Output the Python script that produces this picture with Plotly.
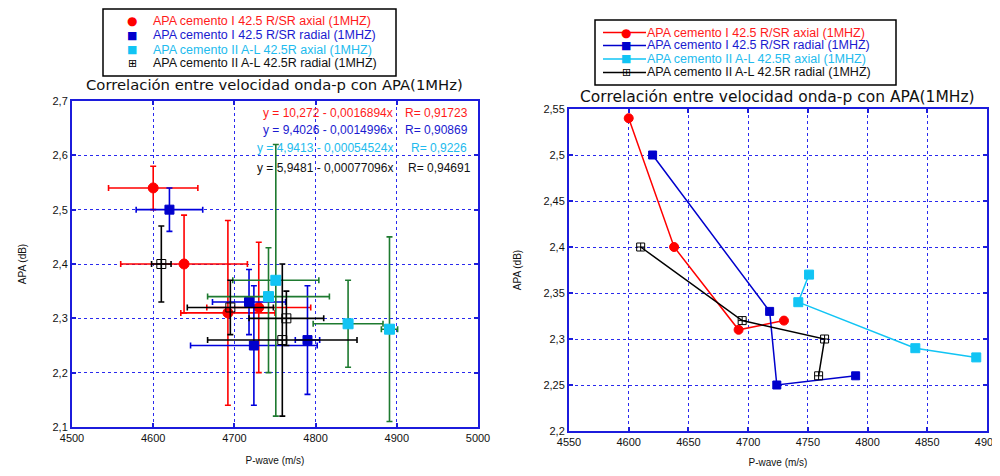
import plotly.graph_objects as go

# ---------------- data ----------------
series_names = [
    "APA cemento I 42.5 R/SR axial (1MHZ)",
    "APA cemento I 42.5 R/SR radial (1MHZ)",
    "APA cemento II A-L 42.5R axial (1MHZ)",
    "APA cemento II A-L 42.5R radial (1MHZ)",
]

x_I_axial = [4600, 4638, 4692, 4730]
y_I_axial = [2.54, 2.40, 2.31, 2.32]
ex_I_axial = [55, 78, 58, 64]
ey_I_axial = [0.04, 0.09, 0.17, 0.12]

x_I_radial = [4620, 4718, 4724, 4790]
y_I_radial = [2.50, 2.33, 2.25, 2.26]
ex_I_radial = [41, 45, 78, 15]
ey_I_radial = [0.04, 0.06, 0.11, 0.10]

x_II_axial = [4751, 4742, 4840, 4891]
y_II_axial = [2.37, 2.34, 2.29, 2.28]
ex_II_axial = [53, 75, 43, 10]
ey_II_axial_plus = [0.25, 0.09, 0.08, 0.17]
ey_II_axial_minus = [0.25, 0.14, 0.08, 0.17]

x_II_radial = [4610, 4695, 4764, 4759]
y_II_radial = [2.40, 2.32, 2.30, 2.26]
ex_II_radial = [12, 53, 46, 92]
ey_II_radial = [0.07, 0.05, 0.05, 0.14]

fit_equations = [
    "y = 10,272 - 0,0016894x",
    "y = 9,4026 - 0,0014996x",
    "y = 4,9413 - 0,00054524x",
    "y = 5,9481 - 0,00077096x",
]
fit_r = ["R= 0,91723", "R= 0,90869", "R= 0,9226", "R= 0,94691"]

title_text = "Correlación entre velocidad onda-p con APA(1MHz)"
x_title = "P-wave (m/s)"
y_title = "APA (dB)"

# ---------------- styles ----------------
W, H = 1000, 476
OFF = 8  # page body margin offset
colors = ["#ff0000", "#0000cc", "#11c4f4", "#000000"]
text_colors = ["#ff1a1a", "#1a1ad0", "#22bbee", "#111111"]
err_colors = ["#ff0000", "#0000dd", "#1e7a30", "#000000"]
symbols = ["circle", "square", "square", "square-cross-open"]
glyphs = ["●", "■", "■", "⊞"]
AX_BLUE = "#1c1cdc"
FONT = "Liberation Sans"


def px(x):
    return (x - OFF) / W


def py(y):
    return 1 - (y - OFF) / H


fig = go.Figure()

left_data = [
    (x_I_axial, y_I_axial, ex_I_axial, ey_I_axial, ey_I_axial),
    (x_I_radial, y_I_radial, ex_I_radial, ey_I_radial, ey_I_radial),
    (x_II_axial, y_II_axial, ex_II_axial, ey_II_axial_plus, ey_II_axial_minus),
    (x_II_radial, y_II_radial, ex_II_radial, ey_II_radial, ey_II_radial),
]
msize_left = [10, 9, 10, 9]
for i, (xs, ys, exs, eyp, eym) in enumerate(left_data):
    fig.add_trace(go.Scatter(
        x=xs, y=ys, mode="markers", name=series_names[i], showlegend=False,
        marker=dict(symbol=symbols[i], size=msize_left[i], color=colors[i],
                    line=dict(width=1, color=colors[i])),
        error_x=dict(type="data", array=exs, color=err_colors[i], thickness=1.6, width=3),
        error_y=dict(type="data", array=eyp, arrayminus=eym, symmetric=False,
                     color=err_colors[i], thickness=1.6, width=3),
        xaxis="x", yaxis="y",
    ))

right_data = [
    (x_I_axial, y_I_axial),
    (x_I_radial, y_I_radial),
    (x_II_axial, y_II_axial),
    (x_II_radial, y_II_radial),
]
msize_right = [9, 8, 9, 8]
for i, (xs, ys) in enumerate(right_data):
    fig.add_trace(go.Scatter(
        x=xs, y=ys, mode="lines+markers", name=series_names[i], showlegend=False,
        line=dict(color=colors[i], width=1.5),
        marker=dict(symbol=symbols[i], size=msize_right[i], color=colors[i],
                    line=dict(width=1, color=colors[i])),
        xaxis="x2", yaxis="y2",
    ))

axis_common = dict(
    showline=True, linecolor=AX_BLUE, linewidth=2, mirror="allticks",
    ticks="inside", ticklen=4, tickcolor=AX_BLUE, tickwidth=2,
    showgrid=True, gridcolor="#2a2aee", griddash="dot", gridwidth=1,
    zeroline=False, automargin=False,
    tickfont=dict(family=FONT, size=11, color="#111"),
)
title_font = dict(family=FONT, size=10, color="#111")

fig.update_layout(
    width=W, height=H,
    margin=dict(l=0, r=0, t=0, b=0),
    paper_bgcolor="white", plot_bgcolor="white",
    separators=",.",
    showlegend=False,
    xaxis=dict(domain=[px(72), px(478)], range=[4500, 5000], dtick=100, anchor="y",
               title=dict(text=x_title, font=title_font, standoff=14), **axis_common),
    yaxis=dict(domain=[py(427), py(101)], range=[2.1, 2.7], dtick=0.1, anchor="x",
               title=dict(text=y_title, font=title_font, standoff=24), **axis_common),
    xaxis2=dict(domain=[px(569), px(987)], range=[4550, 4900], dtick=50, anchor="y2",
                title=dict(text=x_title, font=title_font, standoff=12), **axis_common),
    yaxis2=dict(domain=[py(431), py(109)], range=[2.2, 2.55], dtick=0.05, anchor="x2",
                title=dict(text=y_title, font=title_font, standoff=20), **axis_common),
)

# ---------- legends (drawn as boxed keys) ----------
def add_legend(box, rows_y, text_x, key_x, with_line, line_x=None):
    x0, y0, x1, y1 = box
    fig.add_shape(type="rect", xref="paper", yref="paper",
                  x0=px(x0), x1=px(x1), y0=py(y1), y1=py(y0),
                  line=dict(color="#000", width=1.5), fillcolor="white", layer="above")
    for i, name in enumerate(series_names):
        yy = rows_y[i]
        if with_line:
            fig.add_shape(type="line", xref="paper", yref="paper",
                          x0=px(line_x[0]), x1=px(line_x[1]), y0=py(yy), y1=py(yy),
                          line=dict(color=colors[i], width=1.5), layer="above")
        fig.add_annotation(text=glyphs[i], x=px(key_x), y=py(yy), xref="paper", yref="paper",
                           showarrow=False, xanchor="center", yanchor="middle",
                           font=dict(family="DejaVu Sans", size=11 if i != 0 else 12,
                                     color=colors[i]))
        fig.add_annotation(text=name, x=px(text_x), y=py(yy), xref="paper", yref="paper",
                           showarrow=False, xanchor="left", yanchor="middle",
                           font=dict(family=FONT, size=12.5, color=text_colors[i]))


add_legend((103, 9, 396, 76), [21, 35, 49.5, 63], 151, 132, False)
add_legend((595, 20, 896, 85), [32.5, 45.5, 59, 72.5], 645, 626, True, line_x=(603, 646))

# subplot titles
fig.add_annotation(text=title_text, x=px(274), y=py(84), xref="paper", yref="paper",
                   showarrow=False, font=dict(family="DejaVu Sans", size=14.8, color="#111"),
                   xanchor="center", yanchor="middle")
fig.add_annotation(text=title_text, x=px(777), y=py(97), xref="paper", yref="paper",
                   showarrow=False, font=dict(family="DejaVu Sans", size=15.5, color="#111"),
                   xanchor="center", yanchor="middle")

# regression equations (left chart)
eq_y = [113, 130, 148, 168]
r_x = [403, 403, 409, 406]
for i in range(4):
    fig.add_annotation(text=fit_equations[i], x=px(395), y=py(eq_y[i]), xref="paper", yref="paper",
                       showarrow=False, xanchor="right", yanchor="middle",
                       font=dict(family=FONT, size=12, color=text_colors[i]))
    fig.add_annotation(text=fit_r[i], x=px(r_x[i]), y=py(eq_y[i]), xref="paper", yref="paper",
                       showarrow=False, xanchor="left", yanchor="middle",
                       font=dict(family=FONT, size=12, color=text_colors[i]))

fig.write_html("out.html")
